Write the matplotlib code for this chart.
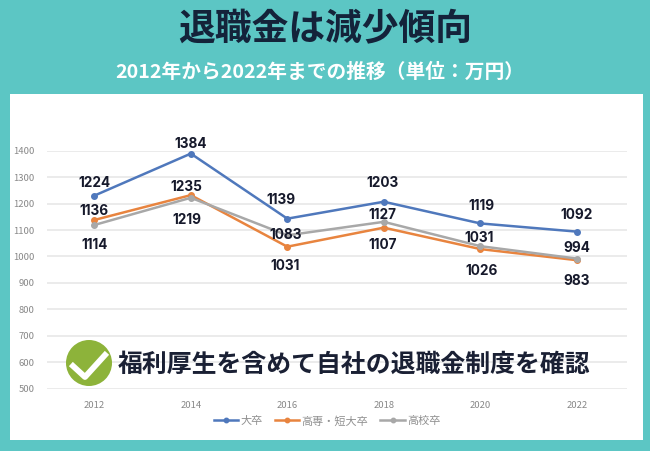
import matplotlib
matplotlib.use("Agg")
import matplotlib.pyplot as plt
from matplotlib.lines import Line2D
from matplotlib.patches import Ellipse, Rectangle

plt.rcParams['font.family'] = ['Noto Sans CJK JP', 'DejaVu Sans']

W, H = 650, 451

years = ["2012", "2014", "2016", "2018", "2020", "2022"]
series_names = ["大卒", "高専・短大卒", "高校卒"]

# line heights
daisotsu = [1230, 1389, 1143, 1207, 1125, 1094]
tandai = [1138, 1232, 1037, 1109, 1028, 986]
koukou = [1119, 1222, 1080, 1131, 1039, 992]

# numbers printed next to the points
daisotsu_labels = [1224, 1384, 1139, 1203, 1119, 1092]
tandai_labels = [1136, 1235, 1031, 1107, 1026, 983]
koukou_labels = [1114, 1219, 1083, 1127, 1031, 994]

yticks = [500, 600, 700, 800, 900, 1000, 1100, 1200, 1300, 1400]

colors = ["#4F78BC", "#E8843F", "#A8A8A8"]
label_offsets = [
    [(0.5, 13), (0, 10), (-6, 19), (-1, 19), (1, 17), (0, 17)],
    [(0, 9), (-4, 8), (-2, -19), (-1, -17), (1, -22), (0, -21)],
    [(0, -20), (-3.5, -22), (-2, 0), (-1, 7), (-1, 8), (0, 11)],
]


def fx(px):
    return px / W


def fy(px):
    return 1 - px / H


fig = plt.figure(figsize=(W / 100, H / 100), dpi=100, facecolor="#5CC6C4")
fig.add_artist(Rectangle((fx(10), fy(440)), fx(632.5), (440 - 94) / H,
                         transform=fig.transFigure, facecolor="white",
                         edgecolor="none", zorder=-1))

ax = fig.add_axes([fx(47), fy(388.7), fx(580), (388.7 - 150.7) / H])
ax.patch.set_alpha(0)
x = list(range(len(years)))
all_values = [daisotsu, tandai, koukou]
all_labels = [daisotsu_labels, tandai_labels, koukou_labels]
for name, vals, col in zip(series_names, all_values, colors):
    ax.plot(x, vals, color=col, lw=1.8, marker="o", ms=4, label=name,
            clip_on=False, zorder=3)

for vals, labs, offs in zip(all_values, all_labels, label_offsets):
    for i, (v, lab, off) in enumerate(zip(vals, labs, offs)):
        ax.annotate(str(lab), (i, v), xytext=off, textcoords="offset pixels",
                    ha="center", va="center", fontsize=9.8, fontweight="bold",
                    family=["Inter", "DejaVu Sans"], color="#16192B", zorder=6)

ax.set_xlim(-0.49, 5.52)
ax.set_ylim(500, 1400)
ax.set_xticks(x, years)
ax.set_yticks(yticks)
ax.tick_params(length=0, labelsize=6.8, labelcolor="#888888")
ax.tick_params(axis="x", pad=9)
ax.tick_params(axis="y", pad=9)
ax.grid(axis="y", color="#E8E8E8", lw=1.2)
ax.set_axisbelow(True)
for s in ax.spines.values():
    s.set_visible(False)

handles, labels = ax.get_legend_handles_labels()
fig.legend(handles, labels, loc="center", bbox_to_anchor=(fx(327), fy(421)),
           ncol=3, frameon=False, fontsize=8, labelcolor="#909090",
           handlelength=2.2, handletextpad=0.2, columnspacing=1.1,
           markerscale=0.8)

fig.text(0.5, fy(30), "退職金は減少傾向", ha="center", va="center",
         fontsize=26.5, fontweight="bold", color="#14233A")
fig.text(fx(320), fy(72.5), "2012年から2022年までの推移（単位：万円）", ha="center",
         va="center", fontsize=14.2, fontweight="bold", color="white")

# check mark badge and the message over the chart
fig.add_artist(Ellipse((fx(89), fy(363)), 46 / W, 46 / H, transform=fig.transFigure,
                       facecolor="#8DB33A", edgecolor="none", zorder=5))
fig.add_artist(Line2D([fx(73), fx(85), fx(105)], [fy(366), fy(377), fy(355)],
                      transform=fig.transFigure, color="white", lw=4.2, zorder=6))
fig.text(fx(354), fy(364.5), "福利厚生を含めて自社の退職金制度を確認", ha="center",
         va="center", fontsize=17.9, fontweight="bold", color="#1A2034", zorder=6)

fig.savefig("out.png", dpi=100, facecolor=fig.get_facecolor())
